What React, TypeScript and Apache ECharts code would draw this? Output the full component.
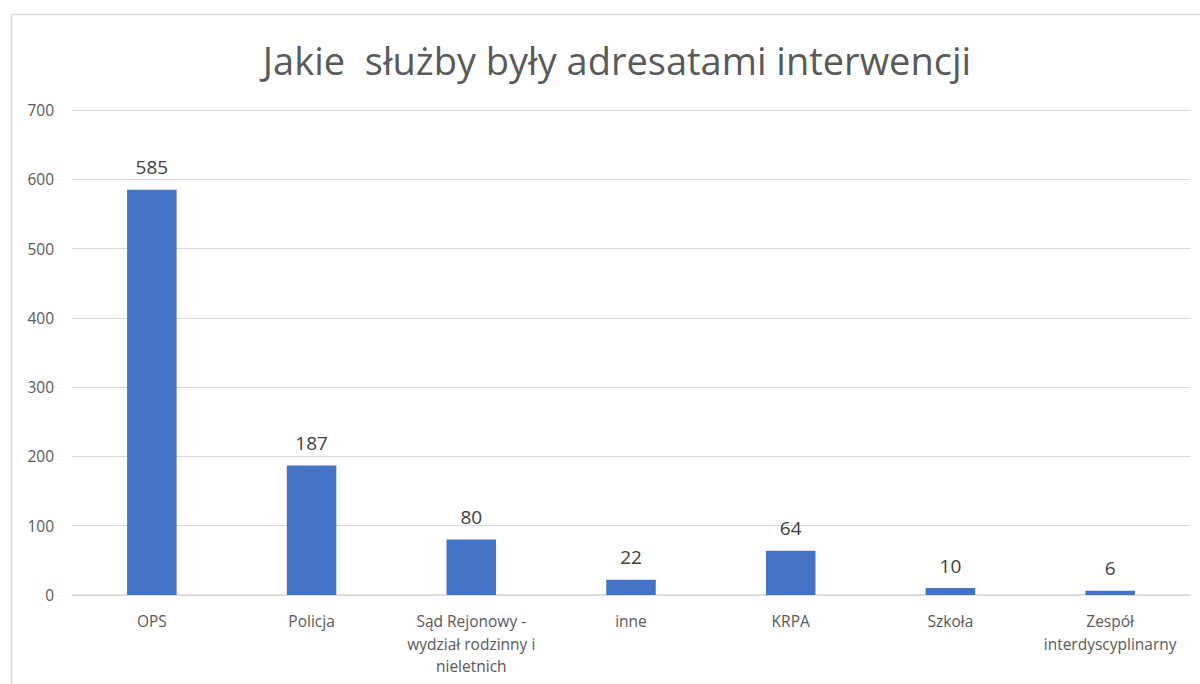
import React, { useEffect, useRef } from "react";
import * as echarts from "echarts";

const title = "Jakie  służby były adresatami interwencji";
const categories = [
  "OPS",
  "Policja",
  "Sąd Rejonowy -\nwydział rodzinny i\nnieletnich",
  "inne",
  "KRPA",
  "Szkoła",
  "Zespół\ninterdyscyplinarny",
];
const values = [585, 187, 80, 22, 64, 10, 6];
const yTicks = { min: 0, max: 700, interval: 100 };

const FONT = "'Open Sans', 'Noto Sans', sans-serif";

export default function App() {
  const ref = useRef<HTMLDivElement>(null);
  useEffect(() => {
    if (!ref.current) return;
    const chart = echarts.init(ref.current, null, { renderer: "svg" });
    chart.setOption({
      animation: false,
      backgroundColor: "#ffffff",
      title: {
        text: title,
        left: 612,
        textAlign: "center",
        top: 36,
        textStyle: { fontFamily: FONT, fontSize: 38, fontWeight: "normal", color: "#595959" },
      },
      graphic: [
        {
          type: "rect",
          shape: { x: 11.5, y: 14.5, width: 1250, height: 750 },
          style: { fill: "none", stroke: "#d9d9d9", lineWidth: 1.5 },
          silent: true,
        },
      ],
      grid: { left: 72, right: 10, top: 110, bottom: 89 },
      xAxis: {
        type: "category",
        data: categories,
        axisLine: { lineStyle: { color: "#d9d9d9", width: 1.5 } },
        axisTick: { show: false },
        axisLabel: {
          interval: 0,
          margin: 15,
          fontFamily: FONT,
          fontSize: 15.5,
          lineHeight: 22.5,
          color: "#595959",
        },
      },
      yAxis: {
        type: "value",
        min: yTicks.min,
        max: yTicks.max,
        interval: yTicks.interval,
        axisLine: { show: false },
        axisTick: { show: false },
        splitLine: { lineStyle: { color: "#d9d9d9", width: 1.2 } },
        axisLabel: { margin: 18, fontFamily: FONT, fontSize: 15.5, color: "#595959" },
      },
      series: [
        {
          type: "bar",
          data: values,
          barWidth: "31%",
          itemStyle: { color: "#4472c4" },
          label: {
            show: true,
            position: "top",
            distance: 13,
            fontFamily: FONT,
            fontSize: 19,
            color: "#404040",
          },
        },
      ],
    });
    return () => chart.dispose();
  }, []);
  return (
    <div
      ref={ref}
      style={{ position: "fixed", left: 0, top: 0, width: 1200, height: 684 }}
    />
  );
}
